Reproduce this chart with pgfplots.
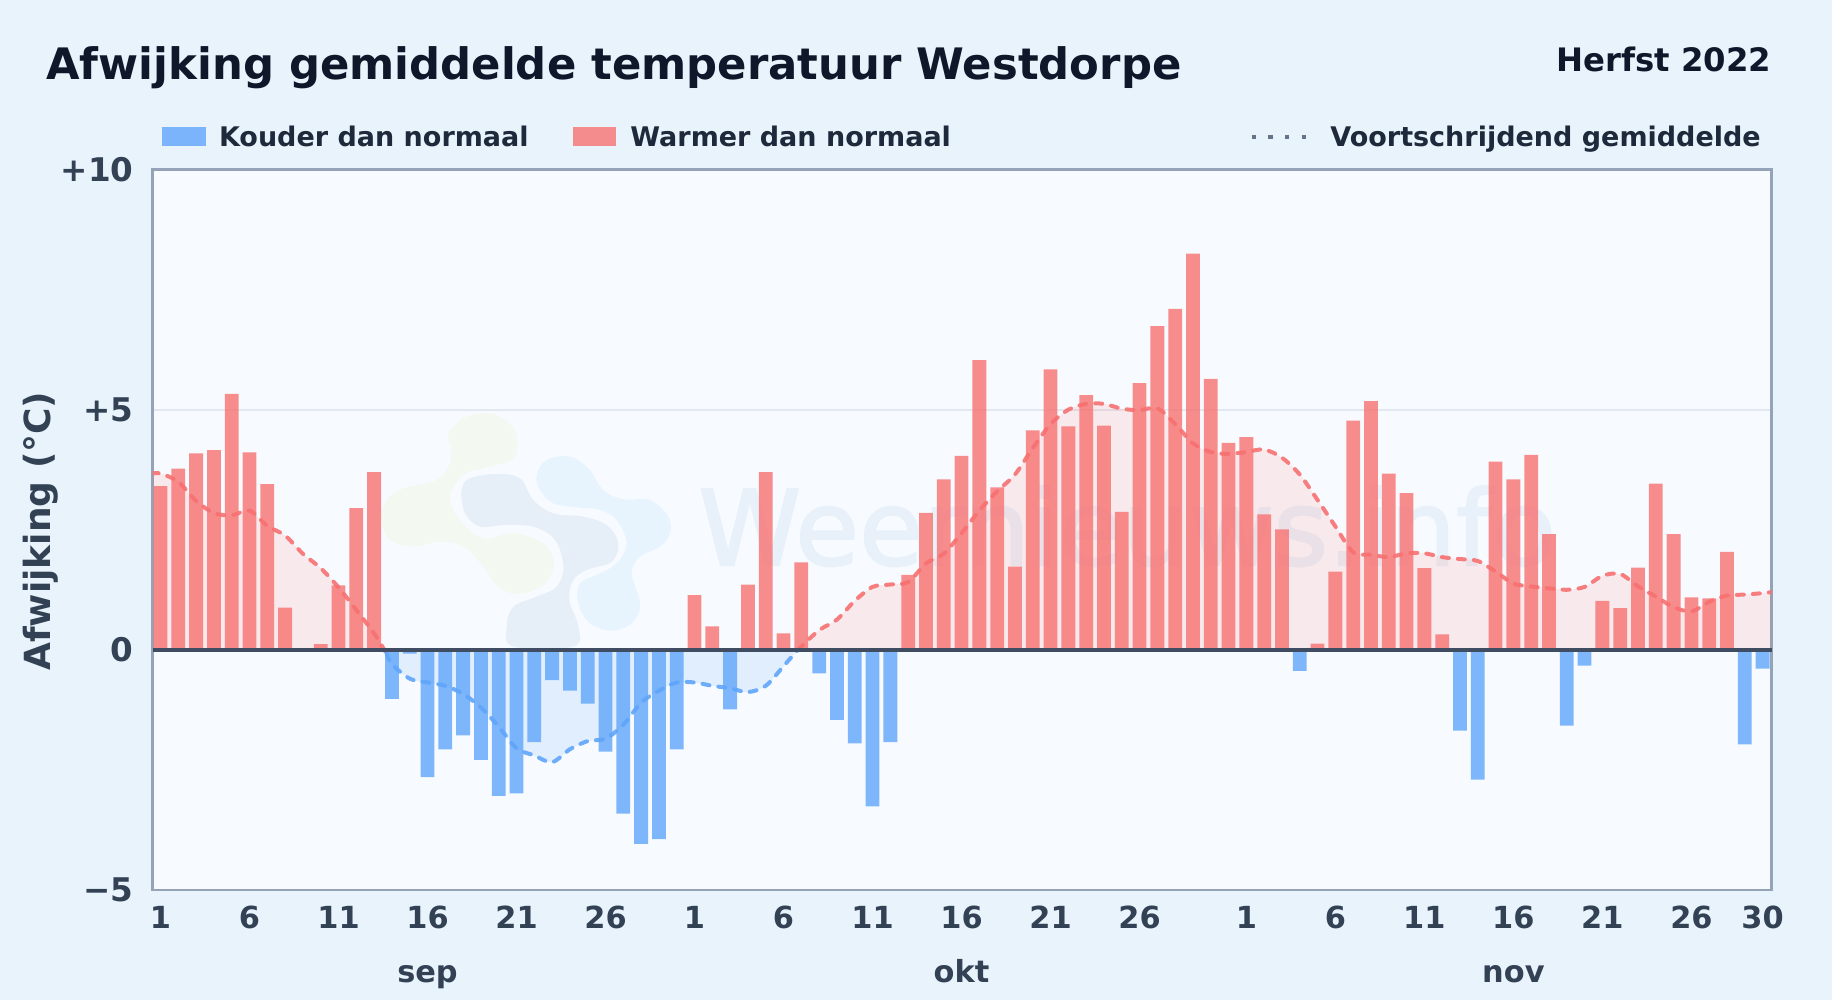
\documentclass[border=0pt]{standalone}
\usepackage{fontspec}
\setmainfont{DejaVu Sans}
\newfontfamily\wmfont[FakeBold=2]{DejaVu Sans}
\usepackage{pgfplots}
\usepackage{pgfplotstable}
\pgfplotsset{compat=1.18}

\definecolor{pagebg}{HTML}{E8F3FC}
\definecolor{plotbg}{HTML}{F7FBFF}
\definecolor{titlecol}{HTML}{0F172A}
\definecolor{legcol}{HTML}{1E293B}
\definecolor{tickcol}{HTML}{334155}
\definecolor{zerocol}{HTML}{3F4C61}
\definecolor{framecol}{HTML}{94A3B8}
\definecolor{gridcol}{HTML}{E2E8F0}
\definecolor{warm}{HTML}{F87171}
\definecolor{cold}{HTML}{60A5FA}
\definecolor{dotcol}{HTML}{64748B}

% moving average, split where it crosses zero
\pgfplotstableread{
x y
0.5 3.67
1 3.67
2 3.5
3 3.1
4 2.85
5 2.8
6 2.9
7 2.58
8 2.38
9 2.0
10 1.7
11 1.3
12 0.83
13 0.34
13.7 -0.08
}\avgwarmA
\pgfplotstableread{
x y
13.7 -0.08
14 -0.3
15 -0.6
16 -0.68
17 -0.75
18 -0.92
19 -1.2
20 -1.6
21 -2.05
22 -2.2
23 -2.34
24 -2.07
25 -1.9
26 -1.85
27 -1.56
28 -1.1
29 -0.85
30 -0.68
31 -0.68
32 -0.75
33 -0.8
34 -0.88
35 -0.75
36 -0.34
36.8 0
}\avgcold
\pgfplotstableread{
x y
36.8 0
37 0.07
38 0.41
39 0.63
40 1.02
41 1.31
42 1.36
43 1.41
44 1.8
45 2.0
46 2.43
47 2.9
48 3.3
49 3.65
50 4.2
51 4.7
52 5.0
53 5.12
54 5.12
55 5.02
56 4.99
57 5.03
58 4.7
59 4.3
60 4.12
61 4.08
62 4.12
63 4.17
64 4.0
65 3.65
66 3.12
67 2.57
68 2.03
69 1.98
70 1.93
71 2.01
72 2.01
73 1.93
74 1.89
75 1.85
76 1.63
77 1.38
78 1.32
79 1.28
80 1.25
81 1.31
82 1.54
83 1.58
84 1.32
85 1.11
86 0.89
87 0.8
88 1.0
89 1.13
90 1.15
91 1.18
91.5 1.2
}\avgwarmB

\begin{document}
\begin{tikzpicture}
\useasboundingbox (0,0) rectangle (916pt,500pt);
\fill[pagebg] (0,0) rectangle (916pt,500pt);
\fill[plotbg] (76.25pt,55pt) rectangle (885.75pt,415.25pt);

% watermark
\begin{scope}[shift={(185pt,300pt)},x=0.16667pt,y=-0.16667pt]
\fill[color={rgb,255:red,243;green,249;blue,241}] plot[smooth cycle,tension=0.6] coordinates {(235,100)(290,50)(370,42)(430,85)(442,140)(425,180)(340,205)(280,225)(240,290)(270,360)(340,415)(430,400)(520,430)(552,490)(520,555)(440,582)(380,555)(340,500)(280,440)(210,425)(130,440)(60,420)(35,360)(50,300)(100,265)(200,240)(240,190)(242,140)};
\fill[color={rgb,255:red,230;green,239;blue,248}] plot[smooth cycle,tension=0.6] coordinates {(275,270)(300,235)(380,222)(450,235)(490,300)(550,340)(640,350)(710,375)(745,430)(725,485)(650,510)(610,540)(598,600)(625,680)(610,740)(430,740)(410,680)(430,620)(500,590)(560,560)(580,500)(555,420)(490,380)(400,375)(330,380)(285,340)};
\fill[color={rgb,255:red,231;green,244;blue,253}] plot[smooth cycle,tension=0.6] coordinates {(500,225)(530,180)(600,170)(655,205)(700,270)(760,298)(840,300)(895,350)(900,400)(870,440)(810,470)(785,520)(810,610)(790,665)(730,692)(660,670)(625,610)(630,550)(680,525)(740,490)(770,430)(740,360)(690,330)(620,322)(550,310)(510,270)};
\end{scope}
\node[anchor=base west,inner sep=0pt,text={rgb,255:red,232;green,241;blue,249}] at (349pt,217.5pt) {\fontsize{52}{60}\selectfont\wmfont Weernieuws.info};

\begin{axis}[
    at={(76.25pt,55pt)}, anchor=south west,
    scale only axis,
    width=809.5pt, height=360.25pt,
    xmin=0.55, xmax=91.5,
    ymin=-5, ymax=10,
    clip mode=individual,
    axis line style={framecol,line width=1.25pt},
    major tick length=0pt,
    ytick={-5,0,5,10},
    yticklabels={−5,0,+5,+10},
    xtick={1,6,11,16,21,26,31,36,41,46,51,56,62,67,72,77,82,87,91},
    xticklabels={1,6,11,16,21,26,1,6,11,16,21,26,1,6,11,16,21,26,30},
    ymajorgrids=true,
    grid style={gridcol,line width=1pt},
    tick label style={text=tickcol},
    xticklabel style={font=\fontsize{15.2}{17}\selectfont\bfseries,anchor=base,yshift=-19.5pt},
    yticklabel style={font=\fontsize{16.3}{18}\selectfont\bfseries,anchor=east,xshift=-6pt},
    tick align=outside,
]
% area under the average
\addplot[draw=none,fill=warm,fill opacity=0.13,smooth,tension=0.5] table {\avgwarmA} \closedcycle;
\addplot[draw=none,fill=cold,fill opacity=0.15,smooth,tension=0.5] table {\avgcold} \closedcycle;
\addplot[draw=none,fill=warm,fill opacity=0.13,smooth,tension=0.5] table {\avgwarmB} \closedcycle;

% average line
\addplot[warm,opacity=0.9,line width=2pt,line cap=round,dash pattern=on 3.5pt off 4.5pt,smooth,tension=0.5] table {\avgwarmA};
\addplot[cold,opacity=0.9,line width=2pt,line cap=round,dash pattern=on 3.5pt off 4.5pt,smooth,tension=0.5] table {\avgcold};
\addplot[warm,opacity=0.9,line width=2pt,line cap=round,dash pattern=on 3.5pt off 4.5pt,smooth,tension=0.5] table {\avgwarmB};

% warmer days
\addplot[ybar,bar width=6.9pt,bar shift=0pt,draw=none,fill=warm,fill opacity=0.8] coordinates {
(1,3.41)(2,3.77)(3,4.09)(4,4.16)(5,5.33)(6,4.11)(7,3.45)(8,0.88)(10,0.12)(11,1.34)(12,2.95)(13,3.70)
(31,1.14)(32,0.49)(34,1.36)(35,3.70)(36,0.34)(37,1.82)
(43,1.56)(44,2.85)(45,3.55)(46,4.04)(47,6.03)(48,3.38)(49,1.73)(50,4.57)(51,5.84)(52,4.65)(53,5.30)(54,4.67)(55,2.87)(56,5.55)(57,6.74)(58,7.10)(59,8.25)(60,5.64)(61,4.31)
(62,4.43)(63,2.82)(64,2.51)(66,0.13)(67,1.63)(68,4.77)(69,5.18)(70,3.67)(71,3.26)(72,1.70)(73,0.32)
(76,3.92)(77,3.55)(78,4.06)(79,2.41)(82,1.02)(83,0.87)(84,1.71)(85,3.46)(86,2.41)(87,1.09)(88,1.07)(89,2.04)
};
% colder days
\addplot[ybar,bar width=6.9pt,bar shift=0pt,draw=none,fill=cold,fill opacity=0.8] coordinates {
(14,-1.02)(15,-0.08)(16,-2.65)(17,-2.07)(18,-1.78)(19,-2.29)(20,-3.04)(21,-2.99)(22,-1.92)(23,-0.63)(24,-0.85)(25,-1.12)(26,-2.12)(27,-3.41)(28,-4.04)(29,-3.94)(30,-2.07)
(33,-1.24)(38,-0.49)(39,-1.46)(40,-1.95)(41,-3.26)(42,-1.92)
(65,-0.44)(74,-1.68)(75,-2.70)(80,-1.58)(81,-0.33)(90,-1.97)(91,-0.39)
};

\draw[zerocol,line width=2pt] (axis cs:0.55,0) -- (axis cs:91.5,0);

% month names under the day numbers
\node[anchor=base,inner sep=0pt,text=tickcol,font=\fontsize{15.2}{17}\selectfont\bfseries,yshift=-46.5pt] at (axis cs:16,-5) {sep};
\node[anchor=base,inner sep=0pt,text=tickcol,font=\fontsize{15.2}{17}\selectfont\bfseries,yshift=-46.5pt] at (axis cs:46,-5) {okt};
\node[anchor=base,inner sep=0pt,text=tickcol,font=\fontsize{15.2}{17}\selectfont\bfseries,yshift=-46.5pt] at (axis cs:77,-5) {nov};
\end{axis}

% title, y label
\node[anchor=base west,inner sep=0pt,text=titlecol] at (23pt,460.3pt) {\fontsize{21.67}{25}\selectfont\bfseries Afwijking gemiddelde temperatuur Westdorpe};
\node[anchor=base east,inner sep=0pt,text=titlecol] at (885.7pt,464.3pt) {\fontsize{16.15}{19}\selectfont\bfseries Herfst 2022};
\node[rotate=90,inner sep=0pt,text=tickcol] at (20.5pt,234.4pt) {\fontsize{18}{21}\selectfont\bfseries Afwijking (°C)};

% legend
\fill[cold,opacity=0.8] (80.8pt,427pt) rectangle (102.9pt,436.6pt);
\node[anchor=base west,inner sep=0pt,text=legcol] at (109.3pt,426.9pt) {\fontsize{13.5}{15}\selectfont\bfseries Kouder dan normaal};
\fill[warm,opacity=0.8] (286.5pt,427pt) rectangle (308pt,436.6pt);
\node[anchor=base west,inner sep=0pt,text=legcol] at (315pt,426.9pt) {\fontsize{13.5}{15}\selectfont\bfseries Warmer dan normaal};
\draw[dotcol,line width=2.2pt,dash pattern=on 2.2pt off 6.15pt] (625.8pt,431.6pt) -- (654pt,431.6pt);
\node[anchor=base west,inner sep=0pt,text=legcol] at (665pt,426.9pt) {\fontsize{13.5}{15}\selectfont\bfseries Voortschrijdend gemiddelde};
\end{tikzpicture}
\end{document}
